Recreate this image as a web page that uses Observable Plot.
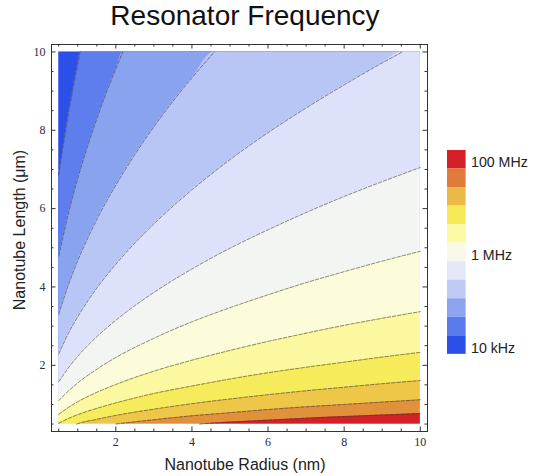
<!DOCTYPE html>
<html>
<head>
<meta charset="utf-8">
<script src="https://cdn.jsdelivr.net/npm/d3@7"></script>
<script src="https://cdn.jsdelivr.net/npm/@observablehq/plot@0.6"></script>
<style>
  body { margin: 0; background: #fff; }
  #wrap { position: relative; width: 545px; height: 476px; font-family: "Liberation Sans", Arial, sans-serif; color: #222; }
  #chart, #legend, .lbl { position: absolute; }
  #chart { left: 0; top: 0; }
  #legend { left: 447px; top: 150px; line-height: 0; }
  #title { position: absolute; left: 0; top: 0px; width: 490px; text-align: center; font-size: 28px; line-height: 32px; color: #111; }
  #xlab { left: 90px; width: 310px; top: 455px; text-align: center; font-size: 16px; line-height: 20px; }
  #ylab { left: 20px; top: 230px; width: 200px; margin-left: -100px; margin-top: -10px; text-align: center; font-size: 16px; line-height: 20px; transform: rotate(-90deg); }
</style>
</head>
<body>
<div id="wrap">
  <div id="chart"></div>
  <div id="title">Resonator Frequency</div>
  <div class="lbl" id="xlab">Nanotube Radius (nm)</div>
  <div class="lbl" id="ylab">Nanotube Length (μm)</div>
  <div id="legend"></div>
</div>
<script>
// ---- data ----
const radiusRange = [0.5, 10];   // nm, extent of the computed region
const lengthRange = [0.5, 10];   // µm
const xTicks = [2, 4, 6, 8, 10];
const yTicks = [2, 4, 6, 8, 10];
const minorTicks = [0.5,1,1.5,2,2.5,3,3.5,4,4.5,5,5.5,6,6.5,7,7.5,8,8.5,9,9.5,10];

// contour lines, [radius, length] pairs, from lowest frequency (top-left) to highest (bottom-right)
const contour01 = [[0.5,6.86],[0.6,7.51],[0.7,8.12],[0.8,8.68],[0.9,9.20],[1.0,9.70],[1.06,10]];
const contour02 = [[0.5,4.79],[0.75,5.86],[1,6.77],[1.25,7.57],[1.5,8.29],[1.75,8.96],[2,9.57],[2.18,10]];
const contour03 = [[0.5,3.30],[0.75,4.04],[1,4.67],[1.5,5.72],[2,6.60],[2.5,7.38],[3,8.09],[3.5,8.74],[4,9.34],[4.59,10]];
const contour04 = [[0.5,2.29],[0.75,2.81],[1,3.24],[1.5,3.97],[2,4.58],[3,5.61],[4,6.48],[5,7.25],[6,7.94],[7,8.57],[8,9.16],[9,9.72],[9.53,10]];
const contour05 = [[0.5,1.58],[0.75,1.93],[1,2.23],[1.5,2.73],[2,3.15],[3,3.86],[4,4.46],[5,4.99],[6,5.46],[7,5.90],[8,6.31],[9,6.69],[10,7.05]];
const contour06 = [[0.5,1.10],[0.75,1.34],[1,1.55],[1.5,1.90],[2,2.20],[3,2.69],[4,3.11],[5,3.47],[6,3.80],[7,4.11],[8,4.39],[9,4.66],[10,4.91]];
const contour07 = [[0.5,0.75],[0.75,0.92],[1,1.07],[1.5,1.31],[2,1.51],[3,1.85],[4,2.13],[5,2.38],[6,2.61],[7,2.82],[8,3.02],[9,3.20],[10,3.37]];
const contour08 = [[0.5,0.52],[0.75,0.64],[1,0.74],[1.5,0.90],[2,1.04],[3,1.28],[4,1.47],[5,1.65],[6,1.81],[7,1.95],[8,2.08],[9,2.21],[10,2.33]];
const contour09 = [[0.97,0.5],[1,0.51],[1.5,0.62],[2,0.72],[3,0.88],[4,1.02],[5,1.14],[6,1.25],[7,1.35],[8,1.44],[9,1.53],[10,1.61]];
const contour10 = [[2,0.5],[3,0.61],[4,0.71],[5,0.79],[6,0.87],[7,0.94],[8,1.00],[9,1.06],[10,1.12]];
const contour11 = [[4.2,0.5],[5,0.55],[6,0.60],[7,0.65],[8,0.69],[9,0.73],[10,0.77]];
const contours = [contour01,contour02,contour03,contour04,contour05,contour06,contour07,contour08,contour09,contour10,contour11];

// band fills, lowest frequency first
const bandColors = ["#2d4fe9","#5d7eec","#8aa3ee","#b8c6f6","#dde2fa","#f3f5f3","#fcfcda","#fcf8a0","#f6eb5b","#eec748","#e2913b","#d42027"];

// legend
const legendLevels = [8, 7.6, 7.2, 6.8, 6.4, 6, 5.6, 5.2, 4.8, 4.4, 4];
const legendColors = ["#d42027","#e07b39","#ebb945","#f6e957","#fbf9a3","#f8f9e8","#e4e8f8","#bfcbf5","#8ca4ee","#5a7beb","#2d4fe9"];
const legendNames = [[8,"100 MHz"],[6,"1 MHz"],[4,"10 kHz"]];

// ---- layout ----
const W = 545, H = 476;
const mL = 51, mR = 118, mT = 44, mB = 45;
const frameW = W - mL - mR, frameH = H - mT - mB;
const pad = 0.02 * (radiusRange[1] - radiusRange[0]);
const padY = 0.02 * (lengthRange[1] - lengthRange[0]);
const majorLen = 4.5, minorLen = 2.5;
const tickColor = "#333";

const toPts = c => c.map(([r, L]) => ({r, L}));

const marks = [];
marks.push(Plot.rect([{x1: radiusRange[0], x2: radiusRange[1], y1: lengthRange[0], y2: lengthRange[1]}],
  {x1: "x1", x2: "x2", y1: "y1", y2: "y2", fill: bandColors[0]}));
contours.forEach((c, i) => {
  const pts = toPts(c);
  const last = pts[pts.length - 1];
  const areaPts = last.L >= lengthRange[1] && last.r < radiusRange[1]
    ? pts.concat([{r: radiusRange[1], L: lengthRange[1]}]) : pts;
  marks.push(Plot.areaY(areaPts, {x: "r", y1: lengthRange[0], y2: "L", fill: bandColors[i + 1], curve: "monotone-x"}));
});
contours.forEach(c => {
  marks.push(Plot.line(toPts(c), {x: "r", y: "L", curve: "monotone-x", stroke: "#3a3a3a", strokeOpacity: 0.6, strokeWidth: 1, strokeDasharray: "3.5,1.8"}));
});
marks.push(Plot.frame({stroke: "#333", strokeWidth: 1}));
// frame ticks on all four sides, pointing inward
const majorSet = new Set(xTicks);
for (const [set, len] of [[minorTicks.filter(d => !majorSet.has(d)), minorLen], [xTicks, majorLen]]) {
  marks.push(Plot.tickX(set, {x: d => d, insetTop: frameH - len, stroke: tickColor}));
  marks.push(Plot.tickX(set, {x: d => d, insetBottom: frameH - len, stroke: tickColor}));
  marks.push(Plot.tickY(set, {y: d => d, insetRight: frameW - len, stroke: tickColor}));
  marks.push(Plot.tickY(set, {y: d => d, insetLeft: frameW - len, stroke: tickColor}));
}
marks.push(Plot.axisX({ticks: xTicks, tickSize: 0, tickPadding: 6, label: null, fontSize: 12, fontFamily: "Liberation Serif", fill: "#2a2a44"}));
marks.push(Plot.axisY({ticks: yTicks, tickSize: 0, tickPadding: 6, label: null, fontSize: 12, fontFamily: "Liberation Serif", fill: "#2a2a44"}));

const chart = Plot.plot({
  width: W, height: H,
  marginLeft: mL, marginRight: mR, marginTop: mT, marginBottom: mB,
  x: {domain: [radiusRange[0] - pad, radiusRange[1] + pad]},
  y: {domain: [lengthRange[0] - padY, lengthRange[1] + padY]},
  style: {background: "transparent"},
  marks
});
document.getElementById("chart").append(chart);

const legend = Plot.plot({
  width: 100, height: 208,
  marginLeft: 0, marginRight: 81, marginTop: 0, marginBottom: 0,
  x: {axis: null},
  y: {type: "band", domain: legendLevels, padding: 0, round: false, axis: null},
  color: {type: "ordinal", domain: legendLevels, range: legendColors},
  style: {background: "transparent", overflow: "visible"},
  marks: [
    Plot.cell(legendLevels, {y: d => d, fill: d => d}),
    Plot.text(legendNames, {y: d => d[0], text: d => d[1], frameAnchor: "right", textAnchor: "start", dx: 5, dy: 3, fontSize: 14.5, fontFamily: "Liberation Sans", fill: "#222"})
  ]
});
document.getElementById("legend").append(legend);
</script>
</body>
</html>
